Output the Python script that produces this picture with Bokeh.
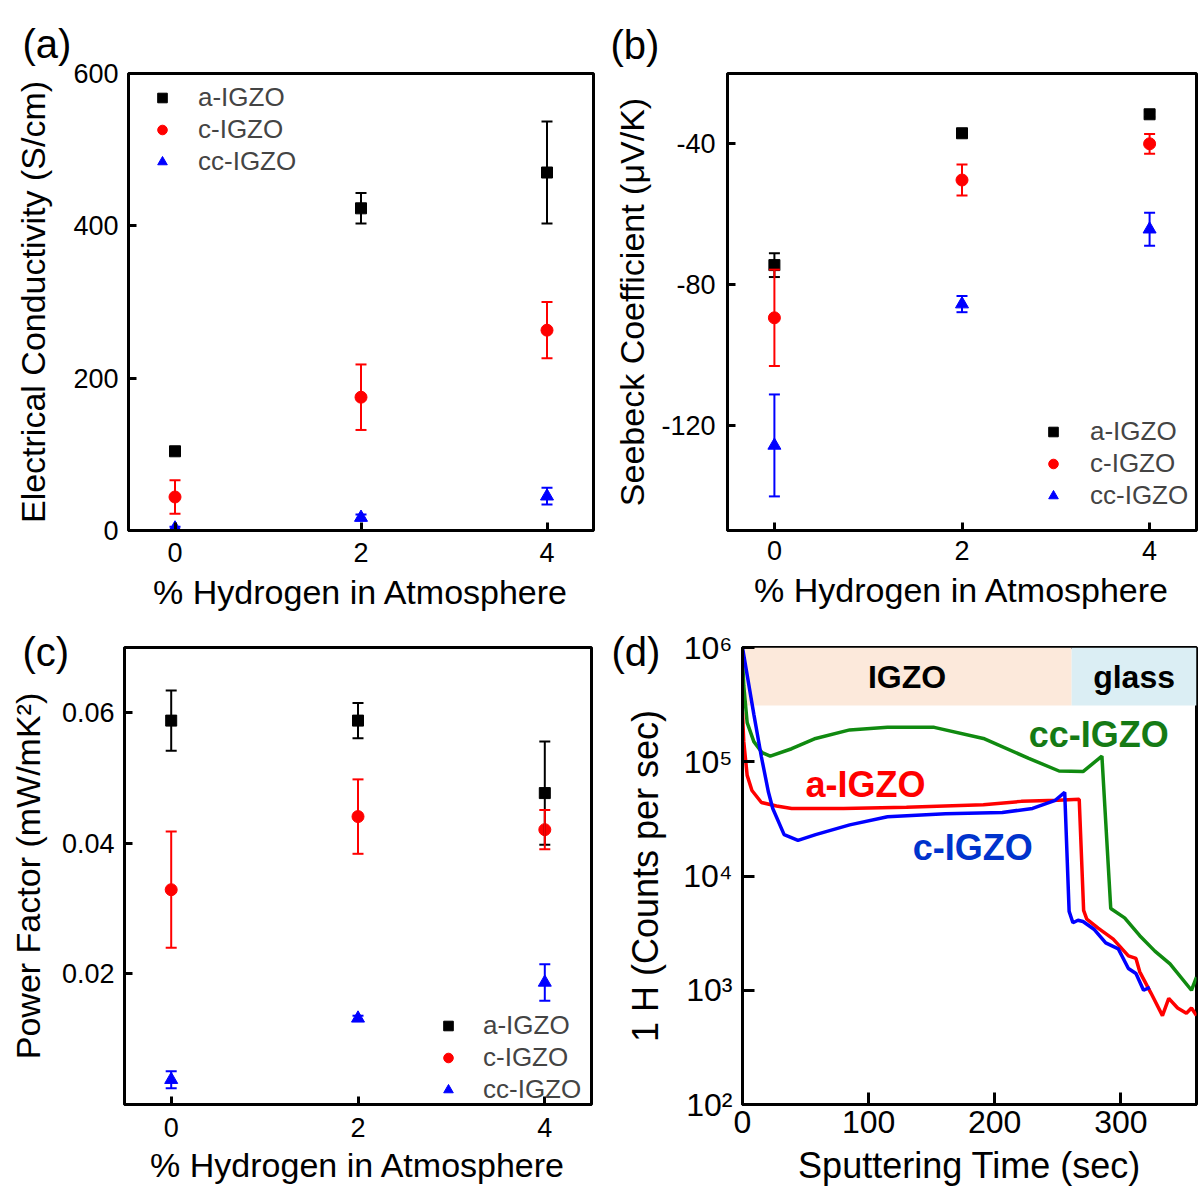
from bokeh.plotting import figure
from bokeh.layouts import column, row
from bokeh.models import (Whisker, TeeHead, ColumnDataSource, FixedTicker, Title,
                          Legend, LegendItem, CustomJSTickFormatter, Range1d)
from bokeh.embed import file_html
from bokeh.resources import INLINE
from bokeh.core.properties import value

FONT = "Liberation Sans"

# ---------------- data ----------------
hydrogen = [0, 2, 4]
series_names = ["a-IGZO", "c-IGZO", "cc-IGZO"]
series_colors = ["#000000", "#FF0000", "#0000FF"]
series_markers = ["square", "circle", "triangle"]

cond_a = [104, 423, 470]
cond_a_err = [5, 20, 67]
cond_c = [44, 175, 263]
cond_c_err = [22, 43, 37]
cond_cc = [3, 17, 45]
cond_cc_err = [2, 4, 11]

seeb_a = [-74.5, -37.0, -31.6]
seeb_a_err = [3.4, 1.0, 0.8]
seeb_c = [-89.5, -50.3, -40.0]
seeb_c_err = [13.7, 4.4, 2.8]
seeb_cc = [-125.8, -85.6, -64.3]
seeb_cc_err = [14.5, 2.3, 4.7]

pf_a = [0.0588, 0.0588, 0.0477]
pf_a_err = [0.0046, 0.0027, 0.0079]
pf_c = [0.0329, 0.0441, 0.0421]
pf_c_err = [0.0089, 0.0057, 0.0030]
pf_cc = [0.0038, 0.0132, 0.0187]
pf_cc_err = [0.0013, 0.0004, 0.0028]

# SIMS depth profile (panel d)
t_a = [0, 1, 3.7, 7.5, 15, 27, 39, 80, 130, 191, 221, 250, 267, 270.5, 273, 282, 294,
       306, 312, 315, 324, 333, 338, 345, 352, 356, 360]
h_a = [2.7e5, 1.5e5, 7.6e4, 5.6e4, 4.4e4, 4.1e4, 3.9e4, 3.9e4, 4.0e4, 4.2e4, 4.5e4,
       4.6e4, 4.7e4, 5.0e3, 4.2e3, 3.5e3, 2.8e3, 2.0e3, 1.9e3, 1.45e3, 9.4e2, 6.0e2,
       8.5e2, 7.0e2, 6.3e2, 7.0e2, 6.0e2]
t_c = [0, 9, 15, 20.6, 24, 33, 44, 58, 85, 115, 161, 206, 230, 248, 255.5, 259, 262,
       266, 270, 279, 288, 298, 306, 312, 318, 323]
h_c = [1.0e6, 2.6e5, 1.1e5, 5.4e4, 3.9e4, 2.3e4, 2.05e4, 2.3e4, 2.8e4, 3.3e4, 3.5e4,
       3.6e4, 3.9e4, 4.6e4, 5.4e4, 4.9e3, 3.9e3, 4.1e3, 4.0e3, 3.4e3, 2.6e3, 2.3e3,
       1.55e3, 1.4e3, 1.0e3, 1.06e3]
t_cc = [0, 1, 3.7, 9, 15.6, 22, 39, 58, 85, 115, 152, 191, 227, 251, 270, 285, 292,
        303, 315, 327, 339, 356, 360]
h_cc = [8.0e5, 4.6e5, 2.2e5, 1.5e5, 1.2e5, 1.12e5, 1.3e5, 1.6e5, 1.9e5, 2.0e5, 2.0e5,
        1.6e5, 1.07e5, 8.3e4, 8.2e4, 1.12e5, 5.2e3, 4.3e3, 3.0e3, 2.2e3, 1.7e3, 1.0e3,
        1.3e3]

band_names = ["IGZO", "glass"]
band_start = [0, 261]
band_end = [261, 360]
band_low = 3.1e5
band_high = 1.0e6
band_colors = ["#FCE9DB", "#DBEEF4"]

curve_label_text = ["cc-IGZO", "a-IGZO", "c-IGZO"]
curve_label_t = [227, 50, 135]
curve_label_h = [1.73e5, 6.3e4, 1.76e4]
curve_label_color = ["#157A15", "#FF0000", "#0033CC"]


def style_axes(p, tick_font, label_font, xt_standoff, xl_standoff, yt_standoff,
               yl_standoff, tick_len):
    for ax in (p.xaxis, p.yaxis):
        ax.axis_line_width = 3
        ax.axis_line_color = "black"
        ax.major_tick_line_width = 3
        ax.major_tick_line_color = "black"
        ax.major_tick_in = tick_len
        ax.major_tick_out = 0
        ax.minor_tick_line_color = None
        ax.major_label_text_font = FONT
        ax.major_label_text_font_size = tick_font
        ax.major_label_text_color = "black"
        ax.axis_label_text_font = FONT
        ax.axis_label_text_font_size = label_font
        ax.axis_label_text_font_style = "normal"
        ax.axis_label_text_color = "black"
    p.xaxis.major_label_standoff = xt_standoff
    p.xaxis.axis_label_standoff = xl_standoff
    p.yaxis.major_label_standoff = yt_standoff
    p.yaxis.axis_label_standoff = yl_standoff
    p.grid.visible = False
    p.outline_line_color = "black"
    p.outline_line_width = 3


def panel_title(p, text, offset, standoff, valign="bottom"):
    p.add_layout(Title(text=text, align="left", offset=offset, standoff=standoff,
                       vertical_align=valign,
                       text_font=FONT, text_font_size="40px", text_font_style="normal",
                       text_color="black"), "above")


def scatter_panel(width, height, bl, br, bt, bb, yrange, yticks, ylabel, ys, errs,
                  legend_loc, legend_standoff, xstand, ystand):
    p = figure(width=width, height=height, min_border_left=bl, min_border_right=br,
               min_border_top=bt, min_border_bottom=bb,
               x_range=Range1d(-0.5, 4.5), y_range=Range1d(*yrange),
               output_backend="svg", toolbar_location=None)
    style_axes(p, "27px", "34px", xstand[0], xstand[1], ystand[0], ystand[1], 8)
    p.xaxis.ticker = FixedTicker(ticks=hydrogen)
    p.yaxis.ticker = FixedTicker(ticks=yticks)
    p.yaxis.formatter = CustomJSTickFormatter(code="return tick.toString();")
    p.xaxis.axis_label = "% Hydrogen in Atmosphere"
    p.yaxis.axis_label = ylabel
    items = []
    for name, col, mk, yv, ev in zip(series_names, series_colors, series_markers, ys, errs):
        src = ColumnDataSource(dict(x=hydrogen, y=yv,
                                    upper=[a + b for a, b in zip(yv, ev)],
                                    lower=[a - b for a, b in zip(yv, ev)]))
        w = Whisker(source=src, base="x", upper="upper", lower="lower",
                    dimension="height", line_color=col, line_width=2, level="glyph",
                    upper_head=TeeHead(size=11, line_color=col, line_width=2),
                    lower_head=TeeHead(size=11, line_color=col, line_width=2))
        p.add_layout(w)
        size = {"square": 11, "circle": 12, "triangle": 13}[mk]
        r = p.scatter("x", "y", source=src, marker=mk, size=size, fill_color=col,
                      line_color=col)
        items.append(LegendItem(label=name, renderers=[r]))
    leg = Legend(items=items, location=legend_loc, padding=0, margin=0, spacing=1,
                 glyph_width=24, glyph_height=31, label_height=31,
                 label_standoff=legend_standoff, label_text_font=FONT,
                 label_text_font_size="26px", background_fill_alpha=0,
                 border_line_color=None)
    p.add_layout(leg)
    return p


# top row: canvas y 0-620
pa = scatter_panel(600, 620, 128, 7, 73, 90, (0, 600), [0, 200, 400, 600],
                   "Electrical Conductivity (S/cm)",
                   [cond_a, cond_c, cond_cc], [cond_a_err, cond_c_err, cond_cc_err],
                   (22, 353), 24, (12, 8), (10, 18))
panel_title(pa, "(a)", -106, 16, "bottom")

pb = scatter_panel(598, 620, 127, 2, 71, 86, (-150, -20), [-120, -80, -40],
                   "Seebeck Coefficient (\u03bcV/K)",
                   [seeb_a, seeb_c, seeb_cc], [seeb_a_err, seeb_c_err, seeb_cc_err],
                   (314, 19), 25, (10, 8), (12, 7))
panel_title(pb, "(b)", -117, 14, "bottom")

# bottom row: canvas y 620-1194
pc = scatter_panel(600, 574, 124, 9, 27, 90, (0, 0.07), [0.02, 0.04, 0.06],
                   "Power Factor (mW/mK\u00b2)",
                   [pf_a, pf_c, pf_cc], [pf_a_err, pf_c_err, pf_cc_err],
                   (312, -1), 23, (13, 6), (10, 12))
panel_title(pc, "(c)", -102, -52, "bottom")

pd_ = figure(width=598, height=574, min_border_left=142, min_border_right=2,
             min_border_top=25, min_border_bottom=90,
             x_range=Range1d(0, 360), y_range=Range1d(1e2, 1e6), y_axis_type="log",
             output_backend="svg", toolbar_location=None)
style_axes(pd_, "32px", "36px", 6, 9, 10, 14, 12)
pd_.xaxis.ticker = FixedTicker(ticks=[0, 100, 200, 300])
pd_.yaxis.ticker = FixedTicker(ticks=[1e2, 1e3, 1e4, 1e5, 1e6])
pd_.yaxis.formatter = CustomJSTickFormatter(code="""
const e = Math.round(Math.log10(tick));
const sup = {2: '\u00b2', 3: '\u00b3', 4: '\u2074', 5: '\u2075', 6: '\u2076'};
return '10' + sup[e];
""")
pd_.xaxis.axis_label = "Sputtering Time (sec)"
pd_.yaxis.axis_label = "1 H (Counts per sec)"

band_src = ColumnDataSource(dict(
    left=band_start, right=band_end, bottom=[band_low] * 2, top=[band_high] * 2,
    color=band_colors, name=band_names,
    xc=[(a + b) / 2 for a, b in zip(band_start, band_end)],
    yc=[(band_low * band_high) ** 0.5] * 2))
pd_.quad(left="left", right="right", bottom="bottom", top="top", fill_color="color",
         line_color=None, source=band_src)
pd_.text(x="xc", y="yc", text="name", source=band_src, text_font=value(FONT),
         text_font_style="bold", text_font_size="32px", text_align="center",
         text_baseline="middle", text_color="black")

pd_.line(t_cc, h_cc, line_color="#108A10", line_width=3.5)
pd_.line(t_a, h_a, line_color="#FF0000", line_width=3.5)
pd_.line(t_c, h_c, line_color="#0000FF", line_width=3.5)

pd_.text(x=curve_label_t, y=curve_label_h, text=curve_label_text,
         text_color=curve_label_color, text_font=value(FONT), text_font_style="bold",
         text_font_size="36px", text_align="left", text_baseline="middle")
panel_title(pd_, "(d)", -131, -52, "bottom")

layout = column(row(pa, pb), row(pc, pd_))
open("out.html", "w").write(file_html(layout, INLINE))
